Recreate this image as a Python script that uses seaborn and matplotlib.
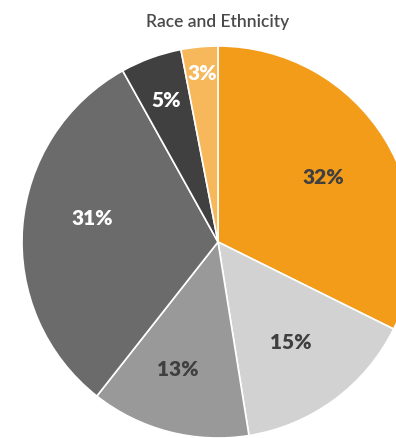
import numpy as np
import matplotlib
matplotlib.use("Agg")
import matplotlib.pyplot as plt
import seaborn as sns

# Race and ethnicity shares (percent), clockwise from 12 o'clock
groups = ["Group A", "Group B", "Group C", "Group D", "Group E", "Group F"]
shares = [32, 15, 13, 31, 5, 3]
labels = ["32%", "15%", "13%", "31%", "5%", "3%"]

colors = ["#F39C1A", "#D2D2D2", "#999999", "#6B6B6B", "#404040", "#F7B85C"]
text_colors = ["#3F3F3F", "#3F3F3F", "#3F3F3F", "#FFFFFF", "#FFFFFF", "#FFFFFF"]
# label placement: distance from centre (fraction of radius) and angular nudge (deg)
label_radius = [0.63, 0.63, 0.675, 0.655, 0.775, 0.87]
label_nudge = [0.0, 0.0, -3.0, -6.5, 0.0, 0.0]

sns.set_theme(style="white")
plt.rcParams["font.family"] = ["Lato", "DejaVu Sans"]

W, H = 396, 439
fig = plt.figure(figsize=(W / 100, H / 100), dpi=100)
R = 196
cx, cy = 218, 243
ax = fig.add_axes([(cx - R) / W, (H - cy - R) / H, 2 * R / W, 2 * R / H])

wedges, _ = ax.pie(
    shares,
    colors=colors,
    startangle=90,
    counterclock=False,
    radius=1.0,
    wedgeprops=dict(edgecolor="white", linewidth=1.2),
)
ax.set_xlim(-1, 1)
ax.set_ylim(-1, 1)
ax.set_aspect("equal")
ax.axis("off")

for w, lab, tc, r, dn in zip(wedges, labels, text_colors, label_radius, label_nudge):
    mid = np.deg2rad((w.theta1 + w.theta2) / 2 + dn)
    ax.text(r * np.cos(mid), r * np.sin(mid), lab, ha="center", va="center",
            fontsize=15, fontweight="heavy", color=tc)

fig.text(cx / W, 1 - 22 / H, "Race and Ethnicity", ha="center", va="center",
         fontsize=12.5, fontweight="semibold", color="#4A4A4A")

fig.savefig("out.png", dpi=100)
